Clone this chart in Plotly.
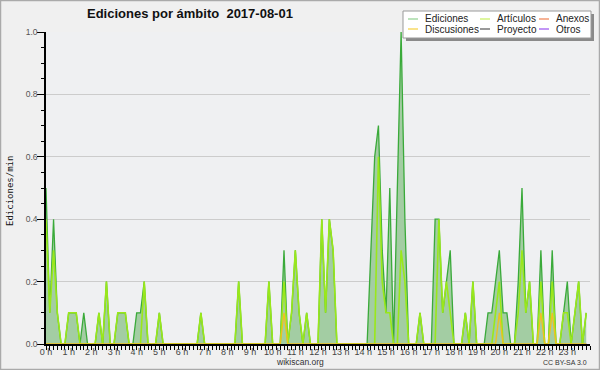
import plotly.graph_objects as go

# ---- data (10-minute bins, edits per minute) ----
minutes = [i * 10 for i in range(144)]
hour_labels = [f"{h} h" for h in range(24)]

ediciones = [
    0.5, 0.1, 0.4, 0.1, 0, 0, 0.1, 0.1, 0.1, 0, 0.1, 0,            # 0h-1h50
    0, 0, 0.1, 0, 0.2, 0, 0, 0.1, 0.1, 0.1, 0, 0,                  # 2h-3h50
    0.1, 0.1, 0.2, 0, 0, 0, 0.1, 0, 0, 0, 0, 0,                    # 4h-5h50
    0, 0, 0, 0, 0, 0.1, 0, 0, 0, 0, 0, 0,                          # 6h-7h50
    0, 0, 0, 0.2, 0, 0, 0, 0, 0, 0, 0, 0.2,                        # 8h-9h50
    0, 0, 0, 0.3, 0, 0.1, 0.3, 0.1, 0, 0.1, 0, 0,                  # 10h-11h50
    0, 0.4, 0.1, 0.4, 0.3, 0, 0, 0, 0, 0, 0, 0,                    # 12h-13h50
    0, 0, 0.3, 0.6, 0.7, 0.3, 0.1, 0.5, 0, 0.5, 1.0, 0.4,          # 14h-15h50
    0, 0, 0, 0.1, 0, 0, 0, 0.4, 0.4, 0.1, 0.2, 0.3,                # 16h-17h50
    0, 0, 0, 0.1, 0, 0.2, 0, 0, 0, 0.1, 0.1, 0.2,                  # 18h-19h50
    0.3, 0.1, 0.1, 0, 0, 0.2, 0.5, 0.1, 0.2, 0, 0, 0.3,            # 20h-21h50
    0, 0, 0.3, 0, 0, 0.1, 0.2, 0, 0.1, 0.2, 0, 0.1,                # 22h-23h50
]
articulos = [
    0.4, 0.1, 0.3, 0.1, 0, 0, 0.1, 0.1, 0.1, 0, 0, 0,
    0, 0, 0.1, 0, 0.2, 0, 0, 0.1, 0.1, 0.1, 0, 0,
    0, 0, 0.2, 0, 0, 0, 0.1, 0, 0, 0, 0, 0,
    0, 0, 0, 0, 0, 0.1, 0, 0, 0, 0, 0, 0,
    0, 0, 0, 0.2, 0, 0, 0, 0, 0, 0, 0, 0.2,
    0, 0, 0, 0.2, 0, 0.1, 0.3, 0.1, 0, 0.1, 0, 0,
    0, 0.4, 0.1, 0.4, 0.3, 0, 0, 0, 0, 0, 0, 0,
    0, 0, 0, 0, 0.6, 0.2, 0.1, 0.1, 0, 0, 0.3, 0.2,
    0, 0, 0, 0.1, 0, 0, 0, 0, 0.4, 0.1, 0.2, 0.1,
    0, 0, 0, 0.1, 0, 0.2, 0, 0, 0, 0, 0, 0.1,
    0.2, 0, 0, 0, 0, 0.1, 0.3, 0.1, 0.2, 0, 0, 0.2,
    0, 0, 0.2, 0, 0, 0.1, 0.1, 0, 0.1, 0.2, 0, 0.1,
]
discusiones = [0] * 144
for idx in (63, 120, 131, 134):
    discusiones[idx] = 0.1
anexos = [0] * 144
proyecto = [0] * 144
otros = [0] * 144

series = [
    ("Ediciones", "#8fd08f"),
    ("Artículos", "#c8f060"),
    ("Anexos", "#f08050"),
    ("Discusiones", "#f5d040"),
    ("Proyecto", "#555555"),
    ("Otros", "#9a50f0"),
]

W, H = 600, 370
ML, MR, MT, MB = 46, 10, 32, 26
PW, PH = W - ML - MR, H - MT - MB


def xp(px):
    return (px - ML) / PW


def yp(py):
    return (H - MB - py) / PH


fig = go.Figure()

# zero-valued series underneath
for name, vals, col in (("Anexos", anexos, "#f08050"),
                        ("Proyecto", proyecto, "#555555"),
                        ("Otros", otros, "#9a50f0")):
    fig.add_trace(go.Scatter(x=minutes, y=vals, mode="lines", name=name,
                             line=dict(color=col, width=1), showlegend=False,
                             hoverinfo="skip"))

fig.add_trace(go.Scatter(x=minutes, y=ediciones, mode="lines", fill="tozeroy",
                         fillcolor="#a3cda3", line=dict(width=0, color="#a3cda3"),
                         showlegend=False, hoverinfo="skip"))
fig.add_trace(go.Scatter(x=minutes, y=ediciones, mode="lines", name="Ediciones",
                         line=dict(color="#3aaa3a", width=1.3), showlegend=False))
fig.add_trace(go.Scatter(x=minutes, y=articulos, mode="lines", name="Artículos",
                         line=dict(color="#9ae81a", width=1.6), showlegend=False))
fig.add_trace(go.Scatter(x=minutes, y=discusiones, mode="lines", name="Discusiones",
                         line=dict(color="#f0c020", width=1.3), showlegend=False))

fig.update_xaxes(range=[0, 1440], tickvals=[h * 60 for h in range(24)],
                 ticktext=hour_labels, ticks="outside", ticklen=4, tickwidth=1,
                 tickcolor="black", showline=True, linecolor="black", linewidth=2,
                 showgrid=False, zeroline=False, ticklabelstandoff=-6,
                 tickfont=dict(family="Liberation Sans", size=9, color="#444"),
                 minor=dict(dtick=10, ticks="outside", ticklen=4, tickcolor="black",
                            tickwidth=1, showgrid=False))
fig.update_yaxes(range=[0, 1.0], dtick=0.2, tickformat=".1f", ticks="outside",
                 ticklen=7, tickwidth=1, tickcolor="black", showline=True,
                 linecolor="black", linewidth=1.5, showgrid=True,
                 gridcolor="#cccccc", gridwidth=1, zeroline=False,
                 ticklabelstandoff=-2,
                 tickfont=dict(family="Liberation Sans", size=8.5, color="#555"),
                 minor=dict(dtick=0.05, ticks="outside", ticklen=3,
                            tickcolor="black", tickwidth=1, showgrid=False))

shapes = [
    dict(type="rect", xref="paper", yref="paper", x0=xp(0.5), x1=xp(599.5),
         y0=yp(0.5), y1=yp(369.5), line=dict(color="#aaaaaa", width=1.5),
         layer="below"),
    dict(type="rect", xref="paper", yref="paper", x0=xp(406), x1=xp(594),
         y0=yp(14), y1=yp(41), fillcolor="#8a8a8a", line=dict(width=0),
         layer="above"),
    dict(type="rect", xref="paper", yref="paper", x0=xp(403), x1=xp(591),
         y0=yp(11), y1=yp(38), fillcolor="white",
         line=dict(color="#999999", width=1), layer="above"),
]
annotations = []
legend_pos = [(408, 19), (480, 19), (539, 19), (408, 29), (480, 29), (539, 29)]
for (name, col), (lx, ly) in zip(series, legend_pos):
    shapes.append(dict(type="line", xref="paper", yref="paper", x0=xp(lx),
                       x1=xp(lx + 10), y0=yp(ly), y1=yp(ly),
                       line=dict(color=col, width=1.2), layer="above"))
    annotations.append(dict(xref="paper", yref="paper", x=xp(lx + 15), y=yp(ly),
                            text=name, showarrow=False, xanchor="left",
                            yanchor="middle",
                            font=dict(family="Liberation Sans", size=10,
                                      color="#222")))

annotations += [
    dict(xref="paper", yref="paper", x=xp(85), y=yp(14),
         text="<b>Ediciones por ámbito  2017-08-01</b>", showarrow=False,
         xanchor="left", yanchor="middle",
         font=dict(family="Liberation Sans", size=13, color="#111")),
    dict(xref="paper", yref="paper", x=xp(10), y=yp(191), text="Ediciones/min",
         textangle=-90, showarrow=False, xanchor="center", yanchor="middle",
         font=dict(family="DejaVu Sans Mono", size=9, color="#111")),
    dict(xref="paper", yref="paper", x=xp(300), y=yp(362), text="wikiscan.org",
         showarrow=False, xanchor="center", yanchor="middle",
         font=dict(family="Liberation Sans", size=8.5, color="#333")),
    dict(xref="paper", yref="paper", x=xp(589), y=yp(362), text="CC BY-SA 3.0",
         showarrow=False, xanchor="right", yanchor="middle",
         font=dict(family="Liberation Sans", size=7, color="#333")),
]

fig.update_layout(width=W, height=H, margin=dict(l=ML, r=MR, t=MT, b=MB),
                  paper_bgcolor="#f0f0f0", plot_bgcolor="#eff0f2",
                  showlegend=False, shapes=shapes, annotations=annotations)

fig.write_html("out.html", config={"displayModeBar": False},
               post_script="document.body.style.margin='0';")
